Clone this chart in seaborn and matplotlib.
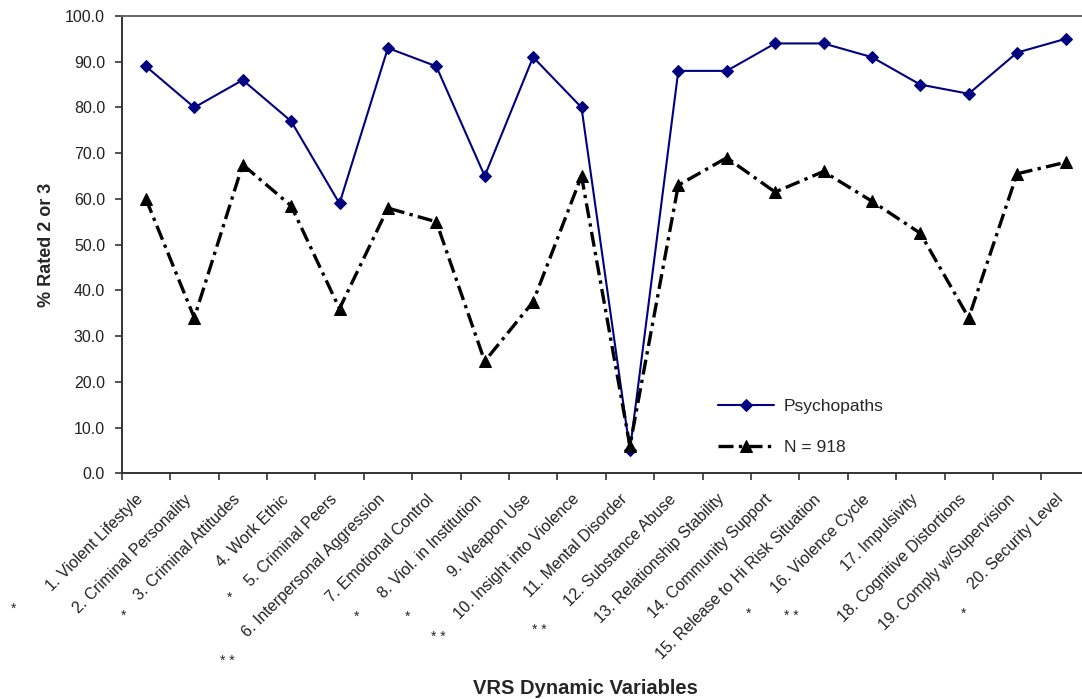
"""VRS dynamic variables: psychopaths vs full sample (% rated 2 or 3)."""

import matplotlib
matplotlib.use("Agg")
import matplotlib.pyplot as plt
from matplotlib.ticker import FixedLocator, FormatStrFormatter
from matplotlib.transforms import ScaledTranslation
import pandas as pd
import seaborn as sns

variables = [
    "1. Violent Lifestyle", "2. Criminal Personality", "3. Criminal Attitudes",
    "4. Work Ethic", "5. Criminal Peers", "6. Interpersonal Aggression",
    "7. Emotional Control", "8. Viol. in Institution", "9. Weapon Use",
    "10. Insight into Violence", "11. Mental Disorder", "12. Substance Abuse",
    "13. Relationship Stability", "14. Community Support",
    "15. Release to Hi Risk Situation", "16. Violence Cycle", "17. Impulsivity",
    "18. Cognitive Distortions", "19. Comply w/Supervision", "20. Security Level",
]
psychopaths = [89, 80, 86, 77, 59, 93, 89, 65, 91, 80, 5, 88, 88, 94, 94, 91, 85, 83, 92, 95]
full_sample = [60, 34, 67.5, 58.5, 36, 58, 55, 24.5, 37.5, 65, 6, 63, 69, 61.5, 66, 59.5, 52.5, 34, 65.5, 68]

# significance marks under the tick labels (figure pixel positions)
stars = [("*", 14, 609), ("*", 124, 616), ("*", 230, 598), ("* *", 227, 661),
         ("*", 357, 617), ("*", 408, 617), ("* *", 438, 637), ("* *", 539, 630),
         ("*", 749, 614), ("* *", 791, 616), ("*", 964, 614)]

sns.set_theme(style="white")
plt.rcParams["font.family"] = ["Liberation Sans", "DejaVu Sans"]

W, H = 1082, 699
fig = plt.figure(figsize=(W / 100, H / 100), dpi=100)
ax = fig.add_axes([121.7 / W, 1 - 473.3 / H, 968 / W, (473.3 - 16) / H])

df = pd.DataFrame({"pos": range(len(variables)), "psy": psychopaths, "all": full_sample})
sns.lineplot(data=df, x="pos", y="psy", ax=ax, color="#000080", lw=1.5,
             marker="D", markersize=6.5, markeredgecolor="#000080", label="Psychopaths")
sns.lineplot(data=df, x="pos", y="all", ax=ax, color="black", lw=2.4,
             dashes=False, marker="^", markersize=8, markeredgecolor="black", label="N = 918")
ax.lines[1].set_dashes([4.5, 1.6, 1, 1.6])

ax.set_xlim(-0.5, len(variables) - 0.5)
ax.set_ylim(0, 100)
ax.set_yticks(range(0, 101, 10))
ax.yaxis.set_major_formatter(FormatStrFormatter("%.1f"))
ax.set_xticks(df["pos"])
ax.set_xticklabels(variables, rotation=45, ha="right", va="center", rotation_mode="anchor")
ax.xaxis.set_minor_locator(FixedLocator([i - 0.5 for i in range(len(variables) + 1)]))
ax.tick_params(axis="x", which="major", length=0, pad=17, labelsize=11.5, colors="#222222")
ax.tick_params(axis="x", which="minor", length=5, width=1.2, color="#333333", bottom=True)
ax.tick_params(axis="y", length=5, width=1.2, color="#333333", left=True, labelsize=11.5,
               labelcolor="#222222", pad=7)
shift = ScaledTranslation(-5 / 100, 0, fig.dpi_scale_trans)
for lab in ax.get_xticklabels():
    lab.set_transform(lab.get_transform() + shift)

for side in ["left", "bottom", "top"]:
    ax.spines[side].set_color("#333333")
    ax.spines[side].set_linewidth(1.4)
ax.spines["top"].set_color("#666666")
ax.spines["right"].set_visible(False)

ax.set_xlabel("")
ax.set_ylabel("% Rated 2 or 3", fontsize=13, fontweight="bold")
ax.yaxis.set_label_coords(-0.069, 0.5)
fig.text(585 / W, 1 - 689 / H, "VRS Dynamic Variables", ha="center", va="center",
         fontsize=14.5, fontweight="bold")

for s, x, y in stars:
    fig.text(x / W, 1 - y / H, s, ha="center", va="center", fontsize=10)

leg = ax.legend(loc="center left", bbox_to_anchor=(0.616, 0.102), frameon=False,
                handlelength=3.2, labelspacing=1.5, fontsize=12.5, borderpad=0,
                borderaxespad=0, handletextpad=0.6)

fig.savefig("out.png", dpi=100)
